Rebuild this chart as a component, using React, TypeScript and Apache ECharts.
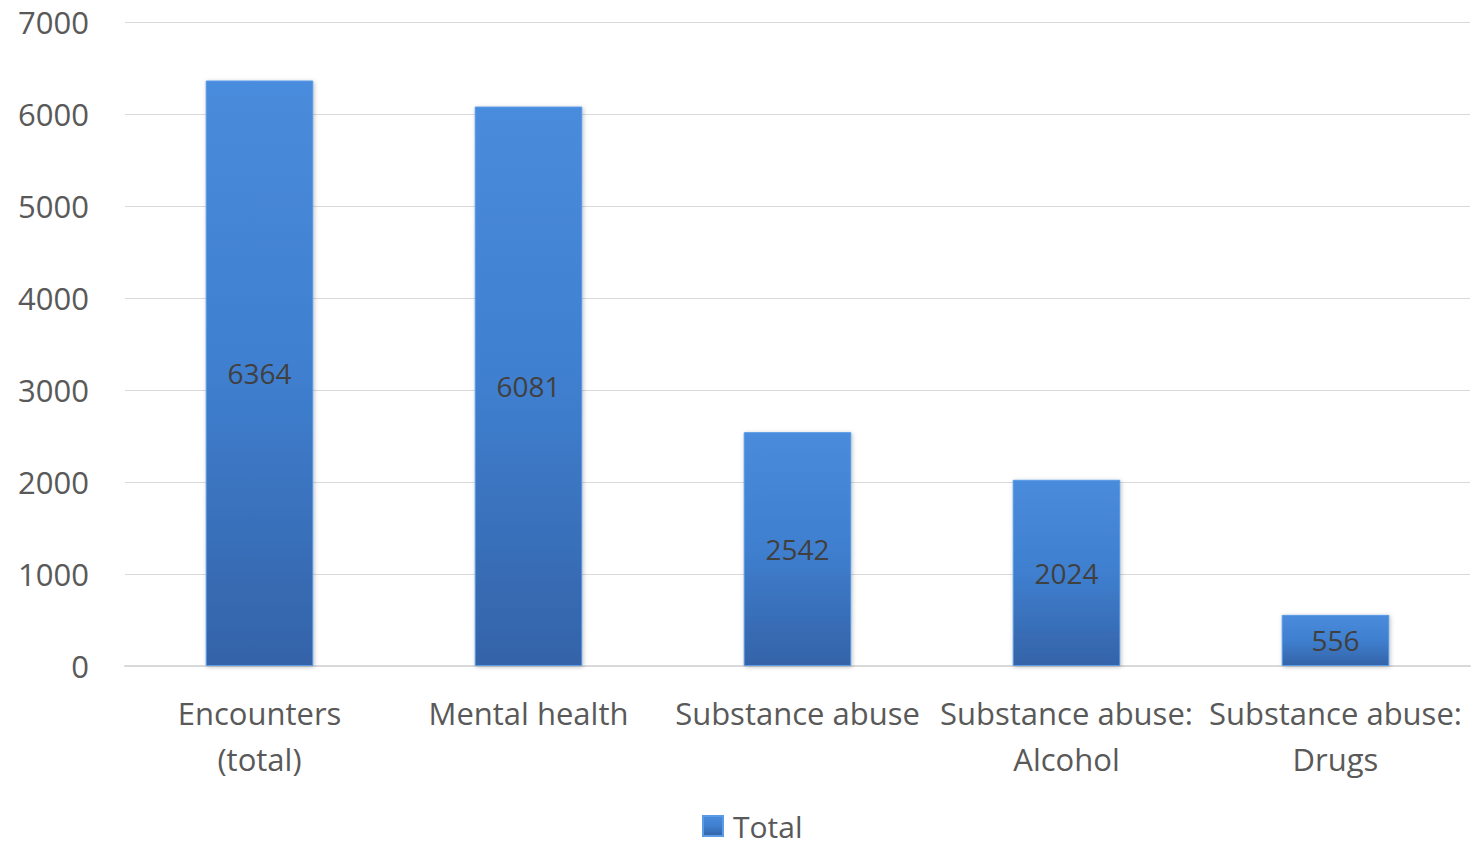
import React, { useEffect, useRef } from "react";
import * as echarts from "echarts";

const categories = [
  "Encounters\n(total)",
  "Mental health",
  "Substance abuse",
  "Substance abuse:\nAlcohol",
  "Substance abuse:\nDrugs",
];
const totals = [6364, 6081, 2542, 2024, 556];
const seriesName = "Total";

const FONT = "'Open Sans', 'Noto Sans', sans-serif";

export default function App() {
  const ref = useRef<HTMLDivElement>(null);

  useEffect(() => {
    if (!ref.current) return;
    const chart = echarts.init(ref.current, undefined, { renderer: "svg" });
    const barFill = new echarts.graphic.LinearGradient(0, 0, 0, 1, [
      { offset: 0, color: "#4a8bdc" },
      { offset: 0.5, color: "#3f7fcf" },
      { offset: 1, color: "#3463a8" },
    ]);
    chart.setOption({
      animation: false,
      backgroundColor: "#ffffff",
      grid: { left: 125, right: 7, top: 22, bottom: 179 },
      legend: {
        top: 808,
        left: 702,
        padding: 0,
        itemWidth: 20,
        itemHeight: 20,
        icon: "rect",
        textStyle: {
          color: "#595959",
          fontSize: 30,
          fontFamily: FONT,
          lineHeight: 36,
          padding: [0, 0, 0, 5],
        },
        data: [seriesName],
      },
      xAxis: {
        type: "category",
        data: categories,
        axisTick: { show: false },
        axisLine: { lineStyle: { color: "#d9d9d9", width: 2 } },
        axisLabel: {
          color: "#595959",
          fontSize: 31,
          fontFamily: FONT,
          lineHeight: 46,
          margin: 24,
          interval: 0,
        },
      },
      yAxis: {
        type: "value",
        min: 0,
        max: 7000,
        interval: 1000,
        axisLine: { show: false },
        axisTick: { show: false },
        splitLine: { lineStyle: { color: "#d9d9d9", width: 1 } },
        axisLabel: {
          color: "#595959",
          fontSize: 31,
          fontFamily: FONT,
          margin: 36,
          formatter: (v: number) => String(v),
        },
      },
      series: [
        {
          name: seriesName,
          type: "bar",
          data: totals,
          barWidth: "40%",
          itemStyle: {
            color: barFill,
            borderColor: "#5b9be6",
            borderWidth: 1,
            shadowColor: "rgba(0,0,0,0.25)",
            shadowBlur: 4,
            shadowOffsetX: 1,
            shadowOffsetY: 1,
          },
          label: {
            show: true,
            position: "inside",
            color: "#404040",
            fontSize: 28,
            fontFamily: FONT,
          },
        },
      ],
    });
    return () => chart.dispose();
  }, []);

  return (
    <div
      ref={ref}
      style={{ position: "absolute", left: 0, top: 0, width: 1477, height: 845 }}
    />
  );
}
